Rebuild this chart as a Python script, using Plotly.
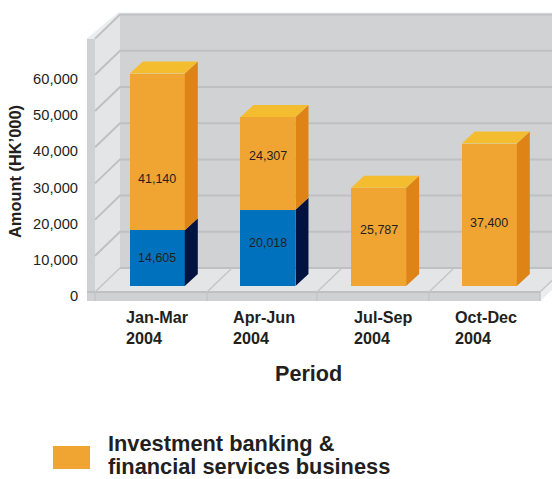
import plotly.graph_objects as go

# Chart data
periods = [["Jan-Mar", "2004"], ["Apr-Jun", "2004"], ["Jul-Sep", "2004"], ["Oct-Dec", "2004"]]
blue_values = [14605, 20018, None, None]
orange_values = [41140, 24307, 25787, 37400]
axis_ticks = [0, 10000, 20000, 30000, 40000, 50000, 60000]
grid_levels = [10000, 20000, 30000, 40000, 50000, 60000, 70000]

# Canvas and plot area, in pixels
W, H = 552, 479
L, R, T, B = 87, 552, 10, 305
STEP = 110.67      # pixels per category
X0 = 157.3         # pixel centre of the first category
WALL_SCALE = 36.2 / 10000
BAR_SCALE = 38.1 / 10000
WALL_BASE, BAR_BASE, TICK_BASE = 292, 286, 296

# Colours
BACK = "#d1d2d4"
SIDE = "#e4e5e7"
EDGE = "#d0d1d3"
BEVEL = "#ecedef"
GRID = "#bfc0c2"
FLOOR_LINE = "#c4c5c7"
INK = "#231f20"
ORANGE, ORANGE_SIDE, ORANGE_TOP = "#f0a533", "#de8417", "#f3bd2f"
BLUE, BLUE_SIDE = "#0071bc", "#00123f"
FONT = "Liberation Sans"


def xpx(px):
    return (px - X0) / STEP


def axis_range(base, scale):
    return [(base - B) / scale, (base - T) / scale]


def paper_x(px):
    return (px - L) / (R - L)


def paper_y(px):
    return (B - px) / (B - T)


fig = go.Figure()


def poly(xs, ys, color, yaxis="y"):
    fig.add_trace(go.Scatter(
        x=xs + xs[:1], y=ys + ys[:1], yaxis=yaxis, mode="lines", fill="toself",
        fillcolor=color, line=dict(width=0, color=color),
        hoverinfo="skip", showlegend=False))


def line(xs, ys, color, width):
    fig.add_trace(go.Scatter(
        x=xs, y=ys, mode="lines", line=dict(color=color, width=width),
        hoverinfo="skip", showlegend=False))


# Box walls, drawn on the wall axis
wall_dx = xpx(120) - xpx(95)
wall_dy = 24 / WALL_SCALE
front_left, edge_left, right = xpx(95), xpx(L), xpx(R)
top = 70000
front_floor = [xpx(p) for p in (95, 207, 317, 429, 540)]
band_bottom = -9 / WALL_SCALE

poly([front_left, front_left + wall_dx, right, right],
     [0 + wall_dy, top + wall_dy, top + wall_dy, wall_dy], BACK)
poly([front_left, front_left + wall_dx, front_left + wall_dx, front_left],
     [0, wall_dy, top + wall_dy, top], SIDE)
poly([front_left, front_left + wall_dx, right, right, front_floor[-1]],
     [0, wall_dy, wall_dy, 11 / WALL_SCALE, 0], SIDE)
poly([edge_left, front_left, front_left, edge_left],
     [band_bottom, band_bottom, top, top], EDGE)
poly([edge_left, front_floor[-1], front_floor[-1], edge_left],
     [band_bottom, band_bottom, 0, 0], EDGE)
poly([front_floor[-1], right, right, front_floor[-1]],
     [band_bottom, 2 / WALL_SCALE, 11 / WALL_SCALE, 0], BEVEL)
poly([edge_left, xpx(118), right, right, front_left + wall_dx, front_left],
     [top, top + wall_dy + 2 / WALL_SCALE, top + wall_dy + 2 / WALL_SCALE,
      top + wall_dy, top + wall_dy, top], BEVEL)

# Grid lines run along the side wall and across the back wall
for level in grid_levels:
    line([front_left, front_left + wall_dx, right],
         [level, level + wall_dy, level + wall_dy], GRID, 2)
line([front_left + wall_dx, right], [wall_dy, wall_dy], GRID, 2)
line([edge_left, front_floor[-1]], [0, 0], GRID, 2)

# Floor dividers and their ticks on the front band
for fx in front_floor:
    line([fx, fx + wall_dx], [0, wall_dy], FLOOR_LINE, 1.5)
    line([fx, fx], [0, band_bottom], FLOOR_LINE, 1.5)

# Stacked bars: front faces through the library's bar trace
categories = list(range(len(periods)))
BAR_WIDTH = 55 / STEP
fig.add_trace(go.Bar(x=categories, y=blue_values, yaxis="y2", width=BAR_WIDTH,
                     marker=dict(color=BLUE, line=dict(width=0)),
                     hoverinfo="skip", showlegend=False))
fig.add_trace(go.Bar(x=categories, y=orange_values, yaxis="y2", width=BAR_WIDTH,
                     marker=dict(color=ORANGE, line=dict(width=0)),
                     hoverinfo="skip", showlegend=False))

# Side and top faces, derived from the same values
bar_dx = 13 / STEP
bar_dy = 12 / BAR_SCALE
for i, (low, high) in enumerate(zip(blue_values, orange_values)):
    low = low or 0
    total = low + high
    right_edge = i + BAR_WIDTH / 2
    left_edge = i - BAR_WIDTH / 2
    if low:
        poly([right_edge, right_edge + bar_dx, right_edge + bar_dx, right_edge],
             [0, bar_dy, low + bar_dy, low], BLUE_SIDE, "y2")
    poly([right_edge, right_edge + bar_dx, right_edge + bar_dx, right_edge],
         [low, low + bar_dy, total + bar_dy, total], ORANGE_SIDE, "y2")
    poly([left_edge, right_edge, right_edge + bar_dx, left_edge + bar_dx],
         [total, total, total + bar_dy, total + bar_dy], ORANGE_TOP, "y2")

# Hidden carrier for the tick-label axis
fig.add_trace(go.Scatter(x=[0] * len(axis_ticks), y=axis_ticks, yaxis="y3",
                         mode="markers", marker=dict(opacity=0),
                         hoverinfo="skip", showlegend=False))

annotations = []

# Value labels, nudged vertically within their segments
blue_shifts = [0, 5, 0, 0]
orange_shifts = [-27, 7, 7, -8]
for i in categories:
    low = blue_values[i] or 0
    if blue_values[i]:
        annotations.append(dict(
            x=i, y=low / 2, xref="x", yref="y2", yshift=blue_shifts[i],
            text=f"{blue_values[i]:,}", showarrow=False,
            font=dict(family=FONT, size=12.5, color=INK)))
    annotations.append(dict(
        x=i, y=low + orange_values[i] / 2, xref="x", yref="y2", yshift=orange_shifts[i],
        text=f"{orange_values[i]:,}", showarrow=False,
        font=dict(family=FONT, size=12.5, color=INK)))


def page_text(text, px, py, size, anchor="center", angle=0, bold=True):
    annotations.append(dict(
        x=paper_x(px), y=paper_y(py), xref="paper", yref="paper",
        text=f"<b>{text}</b>" if bold else text, showarrow=False, textangle=angle,
        xanchor=anchor, yanchor="middle", align="left",
        font=dict(family=FONT, size=size, color=INK)))


# Period labels are left-aligned under each group
period_lefts = [124, 231, 352, 453]
for left, (months, year) in zip(period_lefts, periods):
    page_text(f"{months}<br>{year}", left, 327.5, 16.2, anchor="left")

page_text("Period", 308, 373, 21.6)
page_text("Amount (HK’000)", 15, 172, 16.4, angle=-90)

# The legend caption is set as two separate lines so the lower one stays on the page
page_text("Investment banking &", 106, 443, 21.8, anchor="left")
page_text("financial services business", 106, 466, 21.8, anchor="left")

fig.update_layout(
    width=W, height=H, margin=dict(l=L, r=W - R, t=T, b=H - B, pad=0),
    paper_bgcolor="white", plot_bgcolor="white",
    barmode="stack", bargap=0, showlegend=False,
    font=dict(family=FONT, color=INK),
    annotations=annotations,
    shapes=[dict(type="rect", xref="paper", yref="paper",
                 x0=paper_x(53), x1=paper_x(90), y0=paper_y(469), y1=paper_y(446),
                 fillcolor=ORANGE, line=dict(width=0))],
    xaxis=dict(range=[xpx(L), xpx(R)], visible=False, fixedrange=True),
    yaxis=dict(range=axis_range(WALL_BASE, WALL_SCALE), visible=False, fixedrange=True),
    yaxis2=dict(range=axis_range(BAR_BASE, BAR_SCALE), visible=False, overlaying="y",
                fixedrange=True),
    yaxis3=dict(range=axis_range(TICK_BASE, WALL_SCALE), overlaying="y", side="left",
                tickvals=axis_ticks, tickformat=",d", showgrid=False, zeroline=False,
                showline=False, ticks="outside", ticklen=5, tickcolor="rgba(0,0,0,0)",
                tickfont=dict(family=FONT, size=14.7, color=INK), fixedrange=True),
)

fig.write_html("out.html", config=dict(displayModeBar=False))
